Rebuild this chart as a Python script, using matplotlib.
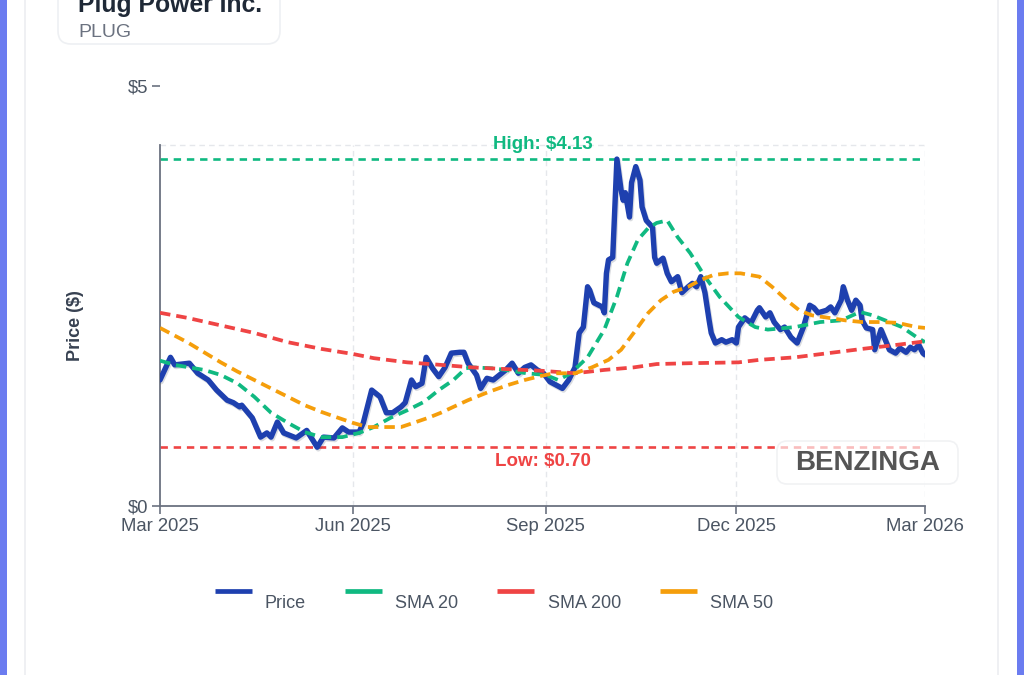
import matplotlib
matplotlib.use('Agg')
import matplotlib.pyplot as plt
import matplotlib.transforms as mtransforms
import matplotlib.patheffects as pe
from matplotlib.patches import FancyBboxPatch, Rectangle
from matplotlib.lines import Line2D
import pandas as pd

plt.rcParams['font.family'] = ['Liberation Sans', 'DejaVu Sans']

# ---------------- data ----------------
price_dates = [
    '2025-03-01', '2025-03-06', '2025-03-08', '2025-03-15', '2025-03-19', '2025-03-24', '2025-03-28',
    '2025-04-02', '2025-04-05', '2025-04-08', '2025-04-09', '2025-04-14', '2025-04-18', '2025-04-21',
    '2025-04-23', '2025-04-26', '2025-04-29', '2025-05-05', '2025-05-10', '2025-05-15', '2025-05-18',
    '2025-05-23', '2025-05-27', '2025-05-30', '2025-06-04', '2025-06-06', '2025-06-10', '2025-06-14',
    '2025-06-17', '2025-06-20', '2025-06-24', '2025-06-26', '2025-06-29', '2025-07-01', '2025-07-04',
    '2025-07-06', '2025-07-09', '2025-07-12', '2025-07-15', '2025-07-18', '2025-07-22', '2025-07-24',
    '2025-07-26', '2025-07-30', '2025-08-01', '2025-08-04', '2025-08-07', '2025-08-10', '2025-08-13',
    '2025-08-16', '2025-08-19', '2025-08-22', '2025-08-25', '2025-08-28', '2025-08-31', '2025-09-03',
    '2025-09-06', '2025-09-09', '2025-09-12', '2025-09-15', '2025-09-16', '2025-09-17', '2025-09-19',
    '2025-09-21', '2025-09-22', '2025-09-24', '2025-09-28', '2025-09-29', '2025-09-30', '2025-10-01',
    '2025-10-03', '2025-10-04', '2025-10-05', '2025-10-07', '2025-10-08', '2025-10-09', '2025-10-11',
    '2025-10-12', '2025-10-14', '2025-10-16', '2025-10-17', '2025-10-19', '2025-10-22', '2025-10-23',
    '2025-10-24', '2025-10-27', '2025-10-29', '2025-10-31', '2025-11-03', '2025-11-05', '2025-11-08',
    '2025-11-10', '2025-11-12', '2025-11-14', '2025-11-16', '2025-11-18', '2025-11-19', '2025-11-21',
    '2025-11-24', '2025-11-26', '2025-11-29', '2025-12-01', '2025-12-02', '2025-12-05', '2025-12-08',
    '2025-12-11', '2025-12-12', '2025-12-15', '2025-12-17', '2025-12-19', '2025-12-22', '2025-12-24',
    '2025-12-27', '2025-12-30', '2026-01-02', '2026-01-05', '2026-01-07', '2026-01-09', '2026-01-13',
    '2026-01-15', '2026-01-17', '2026-01-20', '2026-01-21', '2026-01-23', '2026-01-25', '2026-01-27',
    '2026-01-29', '2026-01-30', '2026-02-01', '2026-02-04', '2026-02-05', '2026-02-08', '2026-02-10',
    '2026-02-12', '2026-02-15', '2026-02-17', '2026-02-20', '2026-02-22', '2026-02-24', '2026-02-26',
    '2026-02-28', '2026-03-01',
]
price_values = [
    1.50, 1.77, 1.68, 1.70, 1.58, 1.50, 1.38,
    1.26, 1.23, 1.18, 1.20, 1.05, 0.82, 0.87,
    0.82, 1.00, 0.87, 0.81, 0.90, 0.70, 0.82,
    0.81, 0.93, 0.88, 0.88, 0.99, 1.38, 1.30,
    1.11, 1.11, 1.18, 1.23, 1.50, 1.42, 1.46,
    1.77, 1.64, 1.54, 1.65, 1.82, 1.83, 1.83,
    1.70, 1.56, 1.40, 1.52, 1.50, 1.56, 1.62,
    1.70, 1.58, 1.65, 1.68, 1.62, 1.58, 1.48,
    1.44, 1.40, 1.50, 1.65, 1.86, 2.06, 2.13,
    2.61, 2.57, 2.42, 2.37, 2.30, 2.77, 2.93,
    2.96, 3.56, 4.13, 3.76, 3.64, 3.73, 3.44,
    3.85, 4.04, 3.88, 3.56, 3.40, 3.32, 2.96,
    2.89, 2.95, 2.77, 2.67, 2.73, 2.54, 2.61,
    2.65, 2.61, 2.73, 2.54, 2.21, 2.06, 1.94,
    1.98, 1.95, 1.98, 1.94, 2.13, 2.24, 2.18,
    2.33, 2.36, 2.25, 2.30, 2.19, 2.10, 2.13,
    2.01, 1.94, 2.13, 2.39, 2.36, 2.30, 2.33,
    2.37, 2.30, 2.45, 2.61, 2.45, 2.33, 2.45,
    2.39, 2.21, 2.12, 2.10, 1.86, 2.10, 1.98,
    1.86, 1.82, 1.88, 1.83, 1.89, 1.86, 1.92,
    1.82, 1.80,
]

sma20_dates = [
    '2025-03-01', '2025-03-08', '2025-03-22', '2025-03-30', '2025-04-07', '2025-04-15', '2025-04-23',
    '2025-05-01', '2025-05-09', '2025-05-17', '2025-05-27', '2025-06-04', '2025-06-11', '2025-06-19',
    '2025-06-27', '2025-07-05', '2025-07-12', '2025-07-19', '2025-07-25', '2025-07-28', '2025-08-06',
    '2025-08-13', '2025-08-23', '2025-09-01', '2025-09-07', '2025-09-13', '2025-09-21', '2025-09-29',
    '2025-10-05', '2025-10-10', '2025-10-15', '2025-10-20', '2025-10-24', '2025-10-29', '2025-11-03',
    '2025-11-09', '2025-11-16', '2025-11-23', '2025-12-02', '2025-12-10', '2025-12-16', '2025-12-29',
    '2026-01-10', '2026-01-20', '2026-01-29', '2026-02-04', '2026-02-12', '2026-02-18', '2026-02-25',
    '2026-03-01',
]
sma20_values = [
    1.73, 1.68, 1.62, 1.56, 1.46, 1.30, 1.11,
    0.99, 0.88, 0.82, 0.82, 0.87, 0.94, 1.05,
    1.14, 1.24, 1.38, 1.50, 1.64, 1.65, 1.64,
    1.62, 1.58, 1.56, 1.50, 1.58, 1.77, 2.10,
    2.49, 2.89, 3.17, 3.31, 3.37, 3.40, 3.20,
    3.01, 2.73, 2.49, 2.25, 2.13, 2.10, 2.13,
    2.19, 2.21, 2.31, 2.27, 2.19, 2.13, 2.01,
    1.95,
]

sma50_dates = [
    '2025-03-01', '2025-03-14', '2025-03-22', '2025-03-30', '2025-04-07', '2025-04-15', '2025-04-23',
    '2025-05-01', '2025-05-09', '2025-05-17', '2025-05-25', '2025-06-01', '2025-06-08', '2025-06-16',
    '2025-06-24', '2025-06-30', '2025-07-07', '2025-07-13', '2025-07-19', '2025-07-26', '2025-08-05',
    '2025-08-14', '2025-08-22', '2025-08-30', '2025-09-05', '2025-09-15', '2025-09-23', '2025-10-01',
    '2025-10-07', '2025-10-13', '2025-10-20', '2025-10-26', '2025-11-01', '2025-11-08', '2025-11-14',
    '2025-11-20', '2025-11-27', '2025-12-03', '2025-12-12', '2025-12-18', '2025-12-25', '2025-12-31',
    '2026-01-06', '2026-01-14', '2026-01-22', '2026-01-30', '2026-02-08', '2026-02-16', '2026-02-25',
    '2026-03-01',
]
sma50_values = [
    2.12, 1.95, 1.83, 1.71, 1.60, 1.50, 1.40,
    1.30, 1.20, 1.12, 1.05, 0.99, 0.94, 0.94,
    0.94, 0.99, 1.05, 1.11, 1.18, 1.26, 1.36,
    1.44, 1.50, 1.55, 1.58, 1.58, 1.65, 1.74,
    1.86, 2.06, 2.30, 2.45, 2.55, 2.61, 2.69,
    2.75, 2.77, 2.77, 2.73, 2.61, 2.45, 2.33,
    2.27, 2.24, 2.21, 2.19, 2.19, 2.18, 2.13,
    2.12,
]

sma200_dates = [
    '2025-03-01', '2025-03-14', '2025-03-30', '2025-04-15', '2025-05-01', '2025-05-17', '2025-06-01',
    '2025-06-11', '2025-06-27', '2025-07-13', '2025-07-28', '2025-08-13', '2025-08-30', '2025-09-15',
    '2025-09-29', '2025-10-13', '2025-10-24', '2025-11-09', '2025-12-02', '2025-12-12', '2025-12-29',
    '2026-01-14', '2026-01-30', '2026-02-16', '2026-03-01',
]
sma200_values = [
    2.30, 2.24, 2.15, 2.06, 1.95, 1.87, 1.81,
    1.76, 1.71, 1.68, 1.65, 1.63, 1.61, 1.58,
    1.62, 1.65, 1.69, 1.70, 1.71, 1.74, 1.77,
    1.82, 1.87, 1.92, 1.96,
]

high_value = 4.13
low_value = 0.70
x_tick_dates = ['2025-03-01', '2025-06-01', '2025-09-01', '2025-12-01', '2026-03-01']
x_tick_labels = ['Mar 2025', 'Jun 2025', 'Sep 2025', 'Dec 2025', 'Mar 2026']
y_tick_values = [0, 5]
y_tick_labels = ['$0', '$5']
legend_names = ['Price', 'SMA 20', 'SMA 200', 'SMA 50']

# ---------------- styling ----------------
C_PRICE = '#1e40af'
C_SMA20 = '#10b981'
C_SMA200 = '#ef4444'
C_SMA50 = '#f59e0b'
C_AXIS = '#6b7280'
C_TICKTXT = '#4b5563'
C_GRID = '#e5e7eb'

W, H = 1024, 675
fig = plt.figure(figsize=(W / 100, H / 100), dpi=100)
fig.patch.set_facecolor('white')
inch = fig.dpi_scale_trans


def fx(x):
    return x / 100.0


def fy(y):
    return (H - y) / 100.0


# page decorations
fig.add_artist(Rectangle((0, 0), fx(7), fy(0), transform=inch, color='#6b7cf0', lw=0))
fig.add_artist(Rectangle((fx(1017), 0), fx(7), fy(0), transform=inch, color='#6b7cf0', lw=0))
fig.add_artist(Line2D([fx(25), fx(25)], [0, fy(0)], transform=inch, color='#eceef1', lw=1.2))
fig.add_artist(Line2D([fx(998), fx(998)], [0, fy(0)], transform=inch, color='#eceef1', lw=1.2))

# title card
fig.add_artist(FancyBboxPatch((fx(58), fy(44)), fx(222), fx(80),
                              boxstyle='round,pad=0,rounding_size=0.13', transform=inch,
                              facecolor='white', edgecolor='#eef0f3', lw=1.2))
fig.text(78 / W, 1 - 12 / H, 'Plug Power Inc.', fontsize=17.8, fontweight='bold',
         color='#1f2937', va='baseline', ha='left')
fig.text(78 / W, 1 - 37 / H, 'PLUG', fontsize=14, color='#6b7280',
         va='baseline', ha='left')

# axes
ax = fig.add_axes([160 / W, 1 - 506 / H, 765 / W, 420 / H])
ax.set_facecolor('none')
xmin, xmax = pd.Timestamp('2025-03-01'), pd.Timestamp('2026-03-01')
ax.set_xlim(xmin, xmax)
ax.set_ylim(0, 5)
top_val = 4.3

for s in ['top', 'right']:
    ax.spines[s].set_visible(False)
ax.spines['left'].set_bounds(0, top_val)
for s in ['left', 'bottom']:
    ax.spines[s].set_color(C_AXIS)
    ax.spines[s].set_linewidth(1.3)

# grid
grid_dates = pd.to_datetime(x_tick_dates[1:])
ax.vlines(grid_dates, 0, top_val, colors=C_GRID, linestyles=(0, (4, 3)), lw=1, zorder=0)
ax.hlines(top_val, xmin, xmax, colors=C_GRID, linestyles=(0, (4, 3)), lw=1, zorder=0)

ax.set_xticks(pd.to_datetime(x_tick_dates))
ax.set_xticklabels(x_tick_labels)
ax.set_yticks(y_tick_values)
ax.set_yticklabels(y_tick_labels)
ax.tick_params(axis='both', length=6, width=1.2, color=C_AXIS, labelsize=13.3,
               labelcolor=C_TICKTXT, pad=2.5)

# high / low
ax.axhline(high_value, color=C_SMA20, lw=1.9, ls=(0, (2.8, 2.2)), zorder=1)
ax.axhline(low_value, color=C_SMA200, lw=1.9, ls=(0, (2.8, 2.2)), zorder=1)
blend = mtransforms.blended_transform_factory(ax.transAxes, ax.transData)
ax.text(0.5, 4.30, f'High: ${high_value:.2f}', transform=blend, ha='center', va='center',
        fontsize=13.5, fontweight='bold', color=C_SMA20)
ax.text(0.5, 0.524, f'Low: ${low_value:.2f}', transform=blend, ha='center', va='center',
        fontsize=13.5, fontweight='bold', color=C_SMA200)

# series
ax.plot(pd.to_datetime(price_dates), price_values, color=C_PRICE, lw=3.9,
        solid_joinstyle='round', solid_capstyle='round', zorder=3,
        path_effects=[pe.SimpleLineShadow(offset=(0.8, -1.2), shadow_color='#334155', alpha=0.18),
                      pe.Normal()])
dash = (0, (2.8, 1.6))
ax.plot(pd.to_datetime(sma20_dates), sma20_values, color=C_SMA20, lw=2.7, ls=dash, zorder=4)
ax.plot(pd.to_datetime(sma200_dates), sma200_values, color=C_SMA200, lw=2.7, ls=dash, zorder=4)
ax.plot(pd.to_datetime(sma50_dates), sma50_values, color=C_SMA50, lw=2.7, ls=dash, zorder=4)

# y label
fig.text(75 / W, 1 - 326 / H, 'Price ($)', rotation=90, ha='center', va='center',
         fontsize=13, fontweight='bold', color='#374151')

# watermark
fig.add_artist(FancyBboxPatch((fx(777), fy(484)), fx(181), fx(43),
                              boxstyle='round,pad=0,rounding_size=0.1', transform=inch,
                              facecolor=(1, 1, 1, 0.65), edgecolor='#f1f2f4', lw=1.2))
fig.text(867.5 / W, 1 - 463 / H, 'BENZINGA', ha='center', va='center', fontsize=20,
         fontweight='bold', color='#555555')

# legend
legend_colors = [C_PRICE, C_SMA20, C_SMA200, C_SMA50]
legend_handle_x = [215, 345, 497, 660]
legend_text_x = [265, 395, 548, 710]
for name, col, hx, tx in zip(legend_names, legend_colors, legend_handle_x, legend_text_x):
    fig.add_artist(Line2D([fx(hx), fx(hx + 37)], [fy(591), fy(591)], transform=inch,
                          color=col, lw=3.4, solid_capstyle='butt'))
    fig.text(tx / W, 1 - 603 / H, name, ha='left', va='center', fontsize=13, color=C_TICKTXT)

fig.savefig('out.png', dpi=100, facecolor='white')
